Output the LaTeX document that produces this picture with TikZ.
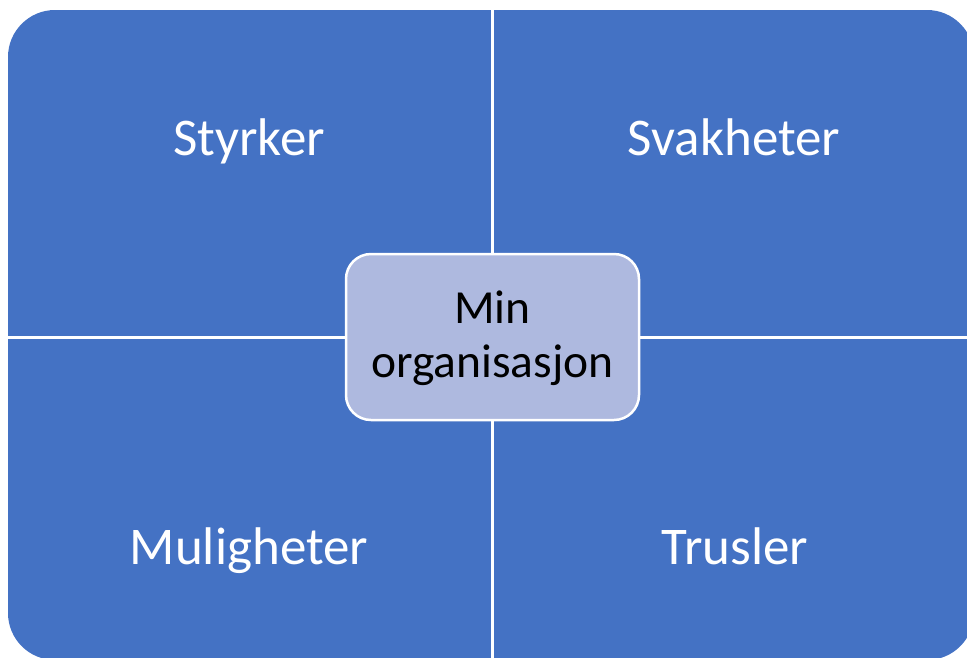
\documentclass[tikz,border=0pt]{standalone}
\usepackage{fontspec}
\setmainfont{Carlito}
\definecolor{quadblue}{HTML}{4472C4}
\definecolor{centerfill}{HTML}{AEB9DF}
\tikzset{
  quadlabel/.style={anchor=base, text=white, font=\fontsize{53}{63}\selectfont, inner sep=0pt},
  centerlabel/.style={anchor=base, text=black, font=\fontsize{47.5}{54}\selectfont, inner sep=0pt},
  centerbox/.style={draw=white, line width=2.5pt, fill=centerfill, rounded corners=25pt},
  gapline/.style={draw=white, line width=3pt},
}
\begin{document}
\begin{tikzpicture}[x=1pt,y=-1pt]
\useasboundingbox (0,0) rectangle (967,657);
\begin{scope}
\clip (0,0) rectangle (967,657);
\fill[quadblue, rounded corners=47pt] (8,10) rectangle (974,660);
\coordinate (vt) at (492.5,0);
\coordinate (vb) at (492.5,670);
\coordinate (hl) at (0,337.5);
\coordinate (hr) at (980,337.5);
\draw[gapline] (vt) -- (vb);
\draw[gapline] (hl) -- (hr);
\end{scope}
\draw[centerbox] (346,254) rectangle (639,420);
\node[centerlabel] (center) at (492.5,323) {Min};
\node[centerlabel] (center2) at (492.5,377) {organisasjon};
\node[quadlabel] (s) at (249,155) {Styrker};
\node[quadlabel] (w) at (734,155) {Svakheter};
\node[quadlabel] (o) at (249,564) {Muligheter};
\node[quadlabel] (t) at (735,564) {Trusler};
\end{tikzpicture}
\end{document}
